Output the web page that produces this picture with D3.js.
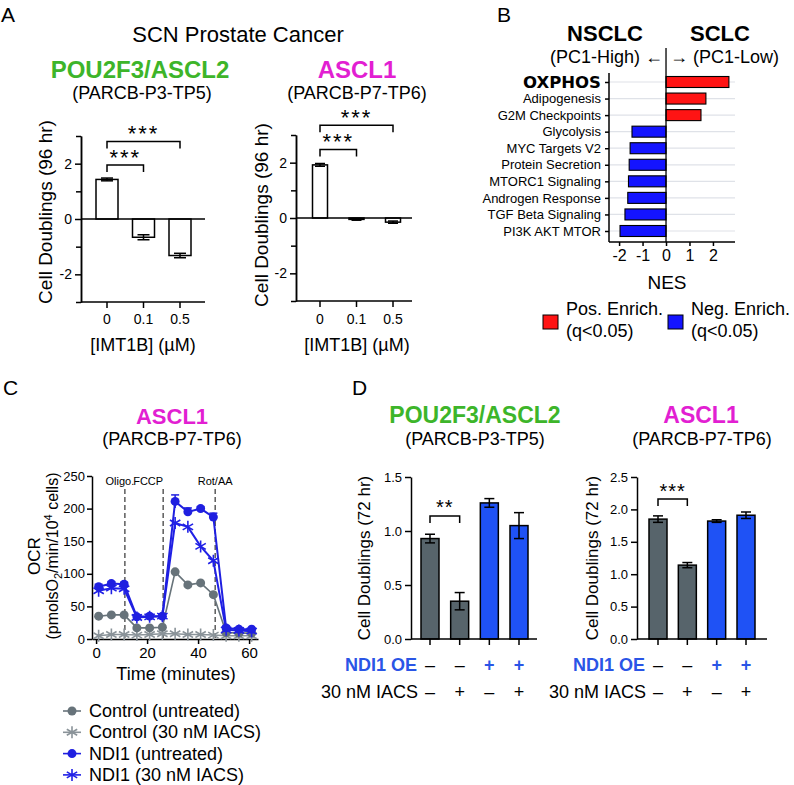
<!DOCTYPE html>
<html>
<head>
<meta charset="UTF-8">
<script src="https://cdn.jsdelivr.net/npm/d3@7"></script>
<style>
body{margin:0;background:#fff;}
svg{display:block;}
</style>
</head>
<body>
<script>
// ---- Panel A data ----
var aDoses = ["0", "0.1", "0.5"];
var aPou = [1.43, -0.66, -1.32];
var aPouErr = [0.05, 0.09, 0.08];
var aAscl = [1.92, -0.05, -0.15];
var aAsclErr = [0.05, 0.03, 0.04];
var aTicks = [-2, 0, 2];
var aMinor = [-3, -1, 1, 3];

// ---- Panel B data ----
var bPathways = ["OXPHOS", "Adipogenesis", "G2M Checkpoints", "Glycolysis", "MYC Targets V2",
  "Protein Secretion", "MTORC1 Signaling", "Androgen Response", "TGF Beta Signaling", "PI3K AKT MTOR"];
var bNES = [2.68, 1.70, 1.49, -1.45, -1.53, -1.57, -1.60, -1.63, -1.75, -1.96];
var bTicks = [-2, -1, 0, 1, 2];

// ---- Panel C data ----
var cTime = [1, 6, 11, 16, 21, 26, 31, 36, 41, 46, 51, 56, 61];
var cCtrl = [35, 37, 37, 17, 17, 18, 103, 83, 86, 68, 10, 9, 9];
var cCtrlIacs = [5, 7, 7, 6, 7, 8, 8, 7, 7, 6, 5, 5, 5];
var cNdi = [80, 85, 84, 34, 35, 35, 211, 195, 200, 187, 17, 15, 15];
var cNdiErr = [4, 3, 3, 3, 3, 3, 10, 6, 3, 6, 3, 2, 2];
var cNdiIacs = [74, 78, 77, 33, 34, 35, 178, 172, 142, 120, 14, 13, 12];
var cInject = [11.3, 26.3, 46.7];
var cInjectNames = ["Oligo.", "FCCP", "Rot/AA"];
var cYTicks = [0, 50, 100, 150, 200, 250];
var cXTicks = [0, 20, 40, 60];
var cSeriesNames = ["Control (untreated)", "Control (30 nM IACS)", "NDI1 (untreated)", "NDI1 (30 nM IACS)"];

// ---- Panel D data ----
var dNdiOE = ["–", "–", "+", "+"];
var dIacs = ["–", "+", "–", "+"];
var dPou = [0.93, 0.35, 1.26, 1.05];
var dPouErr = [0.04, 0.08, 0.04, 0.12];
var dAscl = [1.85, 1.14, 1.82, 1.91];
var dAsclErr = [0.05, 0.04, 0.02, 0.05];

var FONT = '"Liberation Sans", Arial, sans-serif';
var NARROW = '"Liberation Sans Narrow", "Arial Narrow", ' + FONT;
var GREEN = "#3db52a", MAGENTA = "#e21fd2";

var svg = d3.select("body").append("svg")
  .attr("width", 794).attr("height", 785)
  .style("font-family", FONT);

function label(x, y, s, size, opt) {
  opt = opt || {};
  var t = svg.append("text")
    .attr("x", x).attr("y", y)
    .attr("font-size", size)
    .attr("text-anchor", opt.anchor || "middle")
    .attr("fill", opt.fill || "#000")
    .attr("font-weight", opt.bold ? "bold" : "normal")
    .text(s);
  if (opt.family) t.attr("font-family", opt.family);
  if (opt.rotate) t.attr("transform", "rotate(-90," + x + "," + y + ")");
  return t;
}

function styleAxis(g, size) {
  g.attr("font-family", FONT).attr("font-size", size);
  g.selectAll("path,line").attr("stroke", "#000").attr("stroke-width", 1.5);
}

// generic bar panel (A and D)
function barPanel(cfg) {
  var g = svg.append("g");
  var y = d3.scaleLinear().domain(cfg.yDomain).range(cfg.yRange);
  var x = d3.scalePoint().domain(d3.range(cfg.values.length)).range(cfg.xRange);
  var yb = cfg.yRange[0];

  if (cfg.minor) {
    var m = g.append("g").attr("transform", "translate(" + cfg.axisX + ",0)")
      .call(d3.axisLeft(y).tickValues(cfg.minor).tickSize(5).tickSizeOuter(0).tickFormat(""));
    styleAxis(m, 13);
  }
  var ya = g.append("g").attr("transform", "translate(" + cfg.axisX + ",0)")
    .call(d3.axisLeft(y).tickValues(cfg.yTicks).tickSize(6).tickSizeOuter(0).tickPadding(3)
      .tickFormat(cfg.fmt));
  styleAxis(ya, cfg.tickFont);

  // bars
  g.selectAll("rect.bar").data(cfg.values).enter().append("rect")
    .attr("x", function(d, i) { return x(i) - cfg.barW / 2; })
    .attr("y", function(d) { return y(Math.max(d, 0)); })
    .attr("width", cfg.barW)
    .attr("height", function(d) { return Math.abs(y(d) - y(0)); })
    .attr("fill", function(d, i) { return cfg.fills[i]; })
    .attr("stroke", "#000").attr("stroke-width", 1.5);

  // error bars
  var eb = g.selectAll("g.err").data(cfg.values).enter().append("g");
  eb.append("line")
    .attr("x1", function(d, i) { return x(i); }).attr("x2", function(d, i) { return x(i); })
    .attr("y1", function(d, i) { return y(d - cfg.errs[i]); })
    .attr("y2", function(d, i) { return y(d + cfg.errs[i]); });
  [-1, 1].forEach(function(s) {
    eb.append("line")
      .attr("x1", function(d, i) { return x(i) - cfg.cap; }).attr("x2", function(d, i) { return x(i) + cfg.cap; })
      .attr("y1", function(d, i) { return y(d + s * cfg.errs[i]); })
      .attr("y2", function(d, i) { return y(d + s * cfg.errs[i]); });
  });
  eb.selectAll("line").attr("stroke", "#000").attr("stroke-width", 1.5);

  // zero line
  if (cfg.yDomain[0] < 0) {
    g.append("line").attr("x1", cfg.axisX).attr("x2", cfg.xEnd)
      .attr("y1", y(0)).attr("y2", y(0)).attr("stroke", "#000").attr("stroke-width", 1.5);
  }
  // bottom axis
  g.append("line").attr("x1", cfg.axisX).attr("x2", cfg.xEnd)
    .attr("y1", yb).attr("y2", yb).attr("stroke", "#000").attr("stroke-width", 1.5);
  g.selectAll("line.xt").data(cfg.values).enter().append("line")
    .attr("x1", function(d, i) { return x(i); }).attr("x2", function(d, i) { return x(i); })
    .attr("y1", yb).attr("y2", yb + 6).attr("stroke", "#000").attr("stroke-width", 1.5);

  // significance brackets
  (cfg.sig || []).forEach(function(s) {
    var yy = y(s.y);
    g.append("path")
      .attr("d", "M" + x(s.a) + "," + (yy + cfg.drop) + "V" + yy + "H" + x(s.b) + "V" + (yy + cfg.drop))
      .attr("fill", "none").attr("stroke", "#000").attr("stroke-width", 1.5);
    g.append("text")
      .attr("x", (x(s.a) + x(s.b)) / 2)
      .attr("y", yy - cfg.starGap + 0.58 * cfg.starFont)
      .attr("text-anchor", "middle").attr("font-size", cfg.starFont)
      .attr("letter-spacing", cfg.starSpace)
      .text(s.label);
  });
  return { x: x, y: y };
}

// ================= Panel A =================
label(1, 22, "A", 21, { anchor: "start" });
label(238, 42, "SCN Prostate Cancer", 22);
label(140, 78, "POU2F3/ASCL2", 24, { bold: true, fill: GREEN });
label(142, 99, "(PARCB-P3-TP5)", 18);
label(357, 78, "ASCL1", 24, { bold: true, fill: MAGENTA });
label(357, 99, "(PARCB-P7-TP6)", 18);

var intFmt = function(d) { return String(d); };
var aL = barPanel({
  values: aPou, errs: aPouErr, yDomain: [-3, 3], yRange: [302, 136],
  axisX: 81, xEnd: 205, xRange: [107, 180], barW: 22, cap: 6,
  fills: ["#fff", "#fff", "#fff"], yTicks: aTicks, minor: aMinor, fmt: intFmt, tickFont: 14,
  sig: [{ a: 0, b: 2, y: 2.8, label: "***" }, { a: 0, b: 1, y: 1.95, label: "***" }],
  drop: 7, starGap: 13, starFont: 22, starSpace: 2
});
var aR = barPanel({
  values: aAscl, errs: aAsclErr, yDomain: [-3, 3], yRange: [301, 135],
  axisX: 296, xEnd: 412, xRange: [320, 393], barW: 15, cap: 5,
  fills: ["#fff", "#fff", "#fff"], yTicks: aTicks, minor: aMinor, fmt: intFmt, tickFont: 14,
  sig: [{ a: 0, b: 2, y: 3.35, label: "***" }, { a: 0, b: 1, y: 2.48, label: "***" }],
  drop: 7, starGap: 13, starFont: 22, starSpace: 2
});
[[aL, 143], [aR, 357]].forEach(function(p) {
  aDoses.forEach(function(d, i) { label(p[0].x(i), 324, d, 14); });
  label(p[1], 351, "[IMT1B] (µM)", 18);
});
label(52, 212, "Cell Doublings (96 hr)", 19, { rotate: true });
label(268, 215, "Cell Doublings (96 hr)", 19, { rotate: true });

// ================= Panel B =================
label(497, 22, "B", 21, { anchor: "start" });
label(605, 41, "NSCLC", 22, { bold: true });
label(720, 41, "SCLC", 22, { bold: true });
label(663, 63, "(PC1-High) \u2190", 18, { anchor: "end" });
label(670, 63, "\u2192 (PC1-Low)", 18, { anchor: "start" });

var bx = d3.scaleLinear().domain([-2.43, 2.94]).range([609, 735]);
var by = d3.scalePoint().domain(bPathways).range([82, 231]);
var bTop = 73, bBot = 242;

svg.append("g").selectAll("line").data(bPathways).enter().append("line")
  .attr("x1", 609).attr("x2", 735)
  .attr("y1", function(d) { return by(d); }).attr("y2", function(d) { return by(d); })
  .attr("stroke", "#dfe2e8").attr("stroke-width", 1.2);

svg.append("g").selectAll("rect").data(bNES).enter().append("rect")
  .attr("x", function(d) { return bx(Math.min(d, 0)); })
  .attr("y", function(d, i) { return by(bPathways[i]) - 5.5; })
  .attr("width", function(d) { return Math.abs(bx(d) - bx(0)); })
  .attr("height", 11)
  .attr("fill", function(d) { return d > 0 ? "#ff1414" : "#1414ff"; })
  .attr("stroke", "#000").attr("stroke-width", 1.1);

svg.append("line").attr("x1", bx(0)).attr("x2", bx(0)).attr("y1", 48).attr("y2", bBot)
  .attr("stroke", "#000").attr("stroke-width", 1.3);

var byAxis = svg.append("g").attr("transform", "translate(609,0)")
  .call(d3.axisLeft(by).tickSize(4).tickPadding(4).tickSizeOuter(0));
styleAxis(byAxis, 13);
byAxis.select(".domain").attr("d", "M0," + bTop + "V" + bBot);
byAxis.selectAll("text").attr("font-family", NARROW);
byAxis.selectAll("text").filter(function(d) { return d === "OXPHOS"; })
  .attr("font-family", '"DejaVu Sans", sans-serif').attr("font-weight", "bold").attr("font-size", 16.5);

var bxAxis = svg.append("g").attr("transform", "translate(0," + bBot + ")")
  .call(d3.axisBottom(bx).tickValues(bTicks).tickSize(4).tickSizeOuter(0).tickPadding(4).tickFormat(intFmt));
styleAxis(bxAxis, 16);
bxAxis.select(".domain").attr("d", "M609,0H735");
label(667, 289, "NES", 19);

[["#ff1414", 543, "Pos. Enrich."], ["#1414ff", 668, "Neg. Enrich."]].forEach(function(l) {
  svg.append("rect").attr("x", l[1]).attr("y", 315).attr("width", 15).attr("height", 14)
    .attr("fill", l[0]).attr("stroke", "#000").attr("stroke-width", 1);
  label(l[1] + 23, 315, l[2], 18, { anchor: "start" });
  label(l[1] + 23, 337, "(q<0.05)", 18, { anchor: "start" });
});

// ================= Panel C =================
label(3, 395, "C", 21, { anchor: "start" });
label(172, 424, "ASCL1", 22, { bold: true, fill: MAGENTA });
label(172, 445, "(PARCB-P7-TP6)", 18);

var cx = d3.scaleLinear().domain([-1.6, 63.5]).range([92, 258]);
var cy = d3.scaleLinear().domain([0, 250]).range([639, 476]);

var cyAxis = svg.append("g").attr("transform", "translate(92,0)")
  .call(d3.axisLeft(cy).tickValues(cYTicks).tickSize(5).tickSizeOuter(0).tickPadding(2));
styleAxis(cyAxis, 13);
var cxAxis = svg.append("g").attr("transform", "translate(0,639)")
  .call(d3.axisBottom(cx).tickValues(cXTicks).tickSize(5).tickSizeOuter(0).tickPadding(3));
styleAxis(cxAxis, 15);

// injection lines
svg.append("g").selectAll("line").data(cInject).enter().append("line")
  .attr("x1", function(d) { return cx(d); }).attr("x2", function(d) { return cx(d); })
  .attr("y1", 489).attr("y2", 639)
  .attr("stroke", "#333").attr("stroke-width", 1.2).attr("stroke-dasharray", "5,3");
label(cx(cInject[0]) - 5, 485, cInjectNames[0], 11, { family: NARROW });
label(cx(cInject[1]), 485, cInjectNames[1], 11, { anchor: "end", family: NARROW });
label(cx(cInject[2]), 485, cInjectNames[2], 11, { family: NARROW });

function starPath(r) {
  var p = "";
  [90, 30, 150].forEach(function(a) {
    var dx = r * Math.cos(a * Math.PI / 180), dy = r * Math.sin(a * Math.PI / 180);
    p += "M" + (-dx) + "," + (-dy) + "L" + dx + "," + dy;
  });
  return p;
}

var cSeries = [
  { vals: cCtrlIacs, color: "#8a9399", mark: "star", w: 1.5 },
  { vals: cCtrl, color: "#67737a", mark: "dot", w: 1.6 },
  { vals: cNdiIacs, color: "#2020e6", mark: "star", w: 2 },
  { vals: cNdi, color: "#1f1fe0", mark: "dot", w: 2, err: cNdiErr }
];
var cLine = d3.line().x(function(d, i) { return cx(cTime[i]); }).y(function(d) { return cy(d); });

cSeries.forEach(function(s) {
  var g = svg.append("g");
  if (s.err) {
    g.selectAll("line").data(s.vals).enter().append("line")
      .attr("x1", function(d, i) { return cx(cTime[i]); }).attr("x2", function(d, i) { return cx(cTime[i]); })
      .attr("y1", function(d, i) { return cy(d - s.err[i]); }).attr("y2", function(d, i) { return cy(d + s.err[i]); })
      .attr("stroke", s.color).attr("stroke-width", 1.5);
    g.selectAll("line.cap").data(s.vals).enter().append("line")
      .attr("x1", function(d, i) { return cx(cTime[i]) - 4; }).attr("x2", function(d, i) { return cx(cTime[i]) + 4; })
      .attr("y1", function(d, i) { return cy(d + s.err[i]); }).attr("y2", function(d, i) { return cy(d + s.err[i]); })
      .attr("stroke", s.color).attr("stroke-width", 1.5);
  }
  g.append("path").attr("d", cLine(s.vals)).attr("fill", "none")
    .attr("stroke", s.color).attr("stroke-width", s.w);
  var pts = g.selectAll("g.pt").data(s.vals).enter().append("g")
    .attr("transform", function(d, i) { return "translate(" + cx(cTime[i]) + "," + cy(d) + ")"; });
  if (s.mark === "dot") pts.append("circle").attr("r", 4.5).attr("fill", s.color);
  else pts.append("path").attr("d", starPath(6)).attr("stroke", s.color).attr("stroke-width", 1.6);
});

label(176, 680, "Time (minutes)", 18);
label(40, 556, "OCR", 17, { rotate: true });
var oc = label(58, 556, "", 16, { rotate: true });
oc.append("tspan").text("(pmolsO");
oc.append("tspan").attr("font-size", 11).attr("dy", 4).text("2");
oc.append("tspan").attr("dy", -4).text("/min/10");
oc.append("tspan").attr("font-size", 11).attr("dy", -6).text("4");
oc.append("tspan").attr("dy", 6).text(" cells)");

// legend
var legOrder = [cSeries[1], cSeries[0], cSeries[3], cSeries[2]];
legOrder.forEach(function(s, i) {
  var yy = 717 + i * 21.3;
  svg.append("line").attr("x1", 63).attr("x2", 81).attr("y1", yy - 6).attr("y2", yy - 6)
    .attr("stroke", s.color).attr("stroke-width", 1.6);
  if (s.mark === "dot") svg.append("circle").attr("cx", 72).attr("cy", yy - 6).attr("r", 4.5).attr("fill", s.color);
  else svg.append("path").attr("transform", "translate(72," + (yy - 6) + ")").attr("d", starPath(6))
    .attr("stroke", s.color).attr("stroke-width", 1.6);
  label(89, yy, cSeriesNames[i], 18, { anchor: "start" });
});

// ================= Panel D =================
label(352, 395, "D", 21, { anchor: "start" });
label(475, 423, "POU2F3/ASCL2", 23, { bold: true, fill: GREEN });
label(475, 445, "(PARCB-P3-TP5)", 18);
label(701, 423, "ASCL1", 23, { bold: true, fill: MAGENTA });
label(702, 445, "(PARCB-P7-TP6)", 18);

var dFmt = d3.format(".1f");
var dFills = ["#57646b", "#57646b", "#1f52f5", "#1f52f5"];
var dL = barPanel({
  values: dPou, errs: dPouErr, yDomain: [0, 1.5], yRange: [639, 477],
  axisX: 411, xEnd: 537, xRange: [430, 519], barW: 18, cap: 5,
  fills: dFills, yTicks: [0, 0.5, 1, 1.5], fmt: dFmt, tickFont: 13,
  sig: [{ a: 0, b: 1, y: 1.14, label: "**" }],
  drop: 7, starGap: 13, starFont: 20, starSpace: 1
});
var dR = barPanel({
  values: dAscl, errs: dAsclErr, yDomain: [0, 2.5], yRange: [639, 477],
  axisX: 637, xEnd: 767, xRange: [658, 746], barW: 18, cap: 5,
  fills: dFills, yTicks: [0, 0.5, 1, 1.5, 2, 2.5], fmt: dFmt, tickFont: 13,
  sig: [{ a: 0, b: 1, y: 2.16, label: "***" }],
  drop: 7, starGap: 13, starFont: 20, starSpace: 1
});
label(370, 558, "Cell Doublings (72 hr)", 17, { rotate: true });
label(598, 558, "Cell Doublings (72 hr)", 17, { rotate: true });

[[dL, 417], [dR, 645]].forEach(function(p) {
  label(p[1], 671, "NDI1 OE", 18, { anchor: "end", bold: true, fill: "#2a55e6" });
  label(p[1] + 1, 698, "30 nM IACS", 18, { anchor: "end" });
  dNdiOE.forEach(function(s, i) {
    label(p[0].x(i), 671, s, 18, { bold: s === "+", fill: s === "+" ? "#2a55e6" : "#000" });
  });
  dIacs.forEach(function(s, i) { label(p[0].x(i), 698, s, 18); });
});
</script>
</body>
</html>
